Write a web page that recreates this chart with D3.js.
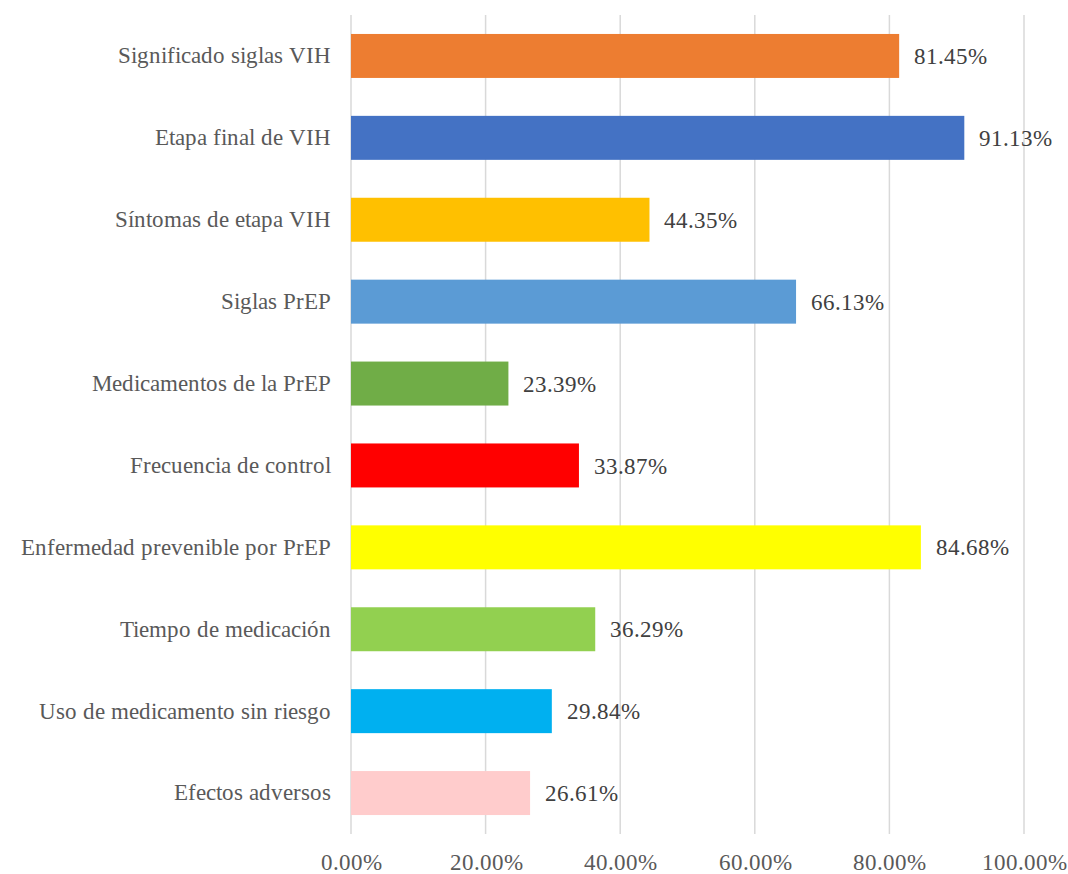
<!DOCTYPE html>
<html>
<head>
<meta charset="utf-8">
<script src="https://cdn.jsdelivr.net/npm/d3@7"></script>
<style>
  @font-face {
    font-family: 'ChartSerif';
    src: local('Liberation Serif'), local('LiberationSerif'), local('LiberationSerif-Regular'),
         local('DejaVu Serif'), local('DejaVuSerif');
  }
  body { margin: 0; background: #fff; }
</style>
</head>
<body>
<svg id="chart"></svg>
<script>
const categories = ['Significado siglas VIH', 'Etapa final de VIH', 'Síntomas de etapa VIH', 'Siglas PrEP',
  'Medicamentos de la PrEP', 'Frecuencia de control', 'Enfermedad prevenible por PrEP',
  'Tiempo de medicación', 'Uso de medicamento sin riesgo', 'Efectos adversos'];
const values = [81.45, 91.13, 44.35, 66.13, 23.39, 33.87, 84.68, 36.29, 29.84, 26.61];
const colors = ['#ED7D31', '#4472C4', '#FFC000', '#5B9BD5', '#70AD47', '#FF0000', '#FFFF00', '#92D050', '#00B0F0', '#FFCCCC'];
const ticks = [0, 20, 40, 60, 80, 100];

const w = 1068;
const h = 874;
const plotLeft = 351;
const plotRight = 1024;
const plotTop = 15;
const plotBottom = 834;
const fontStack = "ChartSerif, 'Liberation Serif', 'Times New Roman', serif";

const svg = d3.select('#chart')
              .attr('width', w)
              .attr('height', h);

const xScale = d3.scaleLinear()
                .domain([0, 100])
                .range([plotLeft, plotRight]);

const yScale = d3.scaleBand()
                .domain(categories)
                .range([plotTop, plotBottom])
                .paddingInner(0.463)
                .paddingOuter(0.2315);

// gridlines
svg.append('g')
   .selectAll('line')
   .data(ticks)
   .enter()
   .append('line')
   .attr('x1', (d) => xScale(d))
   .attr('x2', (d) => xScale(d))
   .attr('y1', plotTop)
   .attr('y2', plotBottom)
   .attr('stroke', '#d9d9d9')
   .attr('stroke-width', 1.5);

// x axis labels
const xAxis = d3.axisBottom(xScale)
                .tickValues(ticks)
                .tickSize(0)
                .tickPadding(20)
                .tickFormat((d) => d.toFixed(2) + '%');

svg.append('g')
   .attr('transform', 'translate(0,' + plotBottom + ')')
   .call(xAxis)
   .attr('font-family', fontStack)
   .call((g) => g.select('.domain').remove())
   .selectAll('text')
   .attr('font-size', 23)
   .attr('fill', '#595959');

// bars
svg.append('g')
   .selectAll('rect')
   .data(values)
   .enter()
   .append('rect')
   .attr('x', xScale(0))
   .attr('y', (d, i) => yScale(categories[i]))
   .attr('width', (d) => xScale(d) - xScale(0))
   .attr('height', yScale.bandwidth())
   .attr('fill', (d, i) => colors[i]);

// category labels
const yAxis = d3.axisLeft(yScale)
                .tickSize(0)
                .tickPadding(20);

svg.append('g')
   .attr('transform', 'translate(' + plotLeft + ',0)')
   .call(yAxis)
   .attr('font-family', fontStack)
   .call((g) => g.select('.domain').remove())
   .selectAll('text')
   .attr('font-size', 23)
   .attr('fill', '#595959');

// value labels
svg.append('g')
   .attr('font-family', fontStack)
   .selectAll('text')
   .data(values)
   .enter()
   .append('text')
   .attr('x', (d) => xScale(d) + 15)
   .attr('y', (d, i) => yScale(categories[i]) + yScale.bandwidth() / 2)
   .attr('dy', '0.35em')
   .attr('font-size', 23)
   .attr('fill', '#404040')
   .text((d) => d.toFixed(2) + '%');
</script>
</body>
</html>
